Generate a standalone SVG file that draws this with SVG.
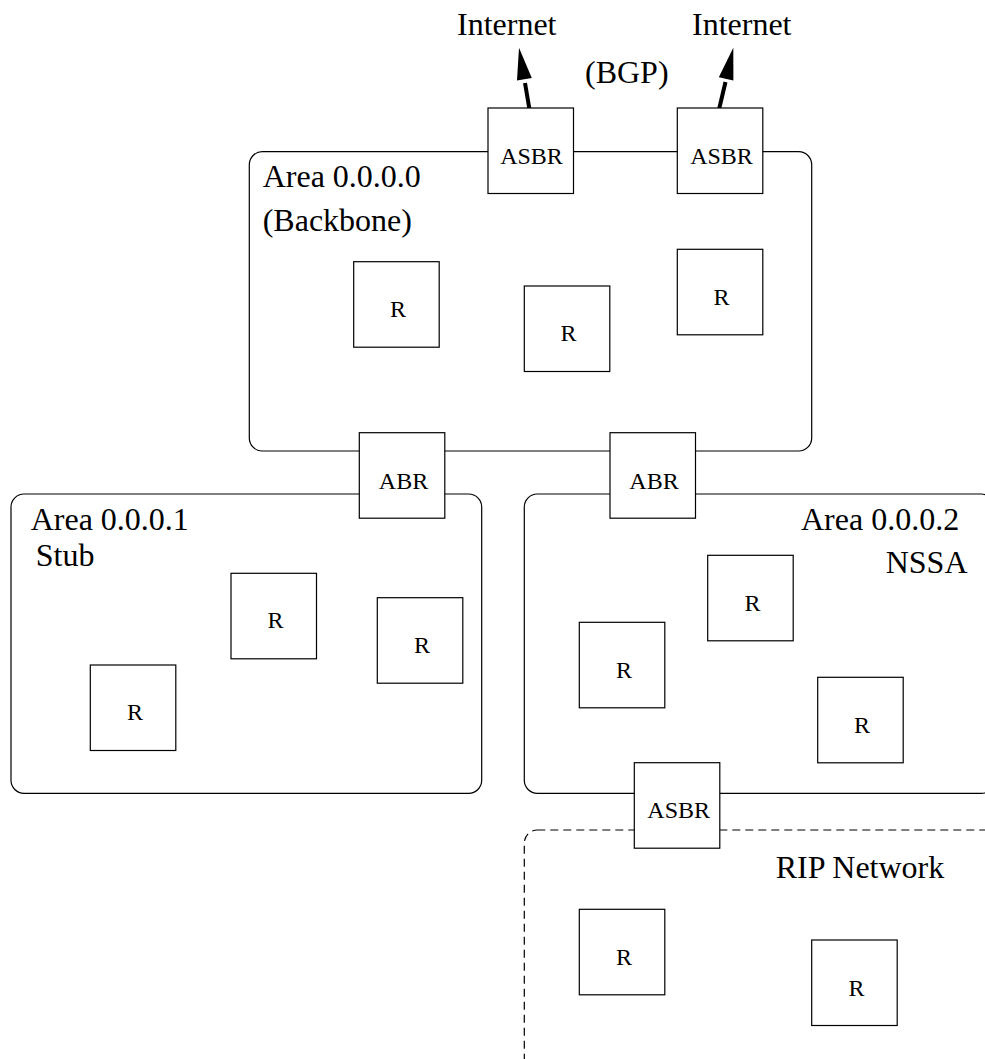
<svg xmlns="http://www.w3.org/2000/svg" width="985" height="1059" viewBox="0 0 985 1059">
<style>
.area{fill:none;stroke:#000;stroke-width:1.2}
.dash{stroke-dasharray:8 5}
.box{fill:#fff;stroke:#000;stroke-width:1.2}
.bt{font-family:"Liberation Serif","Times New Roman",serif;font-size:24px;text-anchor:middle;fill:#000}
.lt{font-family:"Liberation Serif","Times New Roman",serif;font-size:32px;fill:#000}
.shaft{stroke:#000;stroke-width:4;fill:none}
</style>
<rect width="985" height="1059" fill="#fff"/>
<g id="areas">
<rect id="area0" class="area" x="249.3" y="151.7" width="562.4" height="299.3" rx="13"/>
<rect id="area1" class="area" x="11" y="494" width="470.7" height="299.3" rx="13"/>
<rect id="area2" class="area" x="524.3" y="494" width="470" height="299.3" rx="13"/>
<rect id="rip" class="area dash" x="524.3" y="830" width="476" height="240" rx="13"/>
</g>
<g id="labels">
<text class="lt" x="262.7" y="187.3">Area 0.0.0.0</text>
<text class="lt" x="262.7" y="230.5">(Backbone)</text>
<text class="lt" x="30.7" y="530">Area 0.0.0.1</text>
<text class="lt" x="35.7" y="566">Stub</text>
<text class="lt" x="801" y="530">Area 0.0.0.2</text>
<text class="lt" x="885.7" y="572.7">NSSA</text>
<text class="lt" x="775.7" y="878.3">RIP Network</text>
<text class="lt" x="457" y="35">Internet</text>
<text class="lt" x="692" y="35">Internet</text>
<text class="lt" x="585" y="83">(BGP)</text>
</g>
<g id="connectors">
<line class="shaft" x1="529.3" y1="108.3" x2="525" y2="83"/>
<polygon points="519,47.7 531.8,77.9 517,80.5" fill="#000"/>
<line class="shaft" x1="719.3" y1="108.3" x2="725.5" y2="82"/>
<polygon points="733.3,47.7 733.4,80.6 718.8,77.2" fill="#000"/>
</g>
<g id="asbr1"><rect class="box" x="488" y="108" width="85.5" height="85.5"/><text class="bt" x="531.5" y="164">ASBR</text></g>
<g id="asbr2"><rect class="box" x="677.3" y="108" width="85.5" height="85.5"/><text class="bt" x="721.5" y="164">ASBR</text></g>
<g id="r_bb1"><rect class="box" x="353.7" y="261.7" width="85.5" height="85.5"/><text class="bt" x="398" y="317">R</text></g>
<g id="r_bb2"><rect class="box" x="524.3" y="286" width="85.5" height="85.5"/><text class="bt" x="568.5" y="341">R</text></g>
<g id="r_bb3"><rect class="box" x="677.3" y="249.3" width="85.5" height="85.5"/><text class="bt" x="721.5" y="305">R</text></g>
<g id="abr1"><rect class="box" x="359.3" y="432.7" width="85.5" height="85.5"/><text class="bt" x="403.5" y="488.5">ABR</text></g>
<g id="abr2"><rect class="box" x="610" y="432.7" width="85.5" height="85.5"/><text class="bt" x="654" y="488.5">ABR</text></g>
<g id="r_a1_1"><rect class="box" x="231" y="573.3" width="85.5" height="85.5"/><text class="bt" x="275.5" y="628">R</text></g>
<g id="r_a1_2"><rect class="box" x="377.3" y="597.7" width="85.5" height="85.5"/><text class="bt" x="422" y="652.7">R</text></g>
<g id="r_a1_3"><rect class="box" x="90.3" y="665" width="85.5" height="85.5"/><text class="bt" x="135" y="720">R</text></g>
<g id="r_a2_1"><rect class="box" x="707.7" y="555.3" width="85.5" height="85.5"/><text class="bt" x="752.5" y="610.5">R</text></g>
<g id="r_a2_2"><rect class="box" x="579.3" y="622.3" width="85.5" height="85.5"/><text class="bt" x="624" y="677.5">R</text></g>
<g id="r_a2_3"><rect class="box" x="817.7" y="677.3" width="85.5" height="85.5"/><text class="bt" x="862" y="732.5">R</text></g>
<g id="asbr3"><rect class="box" x="634.3" y="762.7" width="85.5" height="85.5"/><text class="bt" x="678.7" y="817.5">ASBR</text></g>
<g id="r_rip1"><rect class="box" x="579.3" y="909.3" width="85.5" height="85.5"/><text class="bt" x="624" y="965">R</text></g>
<g id="r_rip2"><rect class="box" x="811.7" y="940" width="85.5" height="85.5"/><text class="bt" x="856.5" y="995.5">R</text></g>
</svg>
